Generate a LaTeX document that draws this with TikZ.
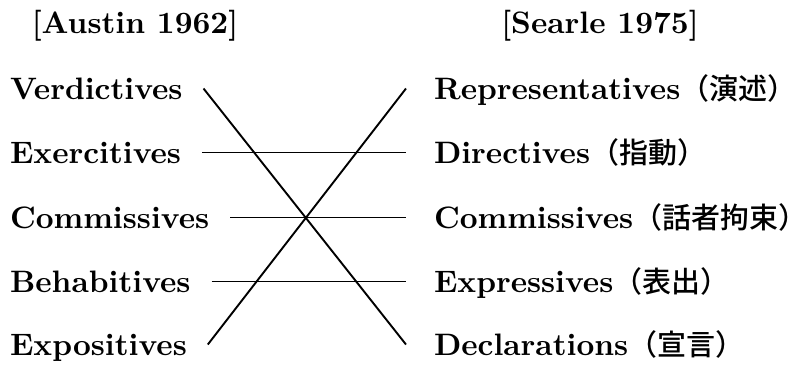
\documentclass[tikz,border=0pt]{standalone}
\usepackage{fontspec}
\setmainfont{lmroman10-regular}[Extension=.otf, BoldFont=lmroman10-bold]
\newfontfamily\cjk{Noto Sans CJK JP}[BoldFont={Noto Sans CJK JP Medium}]
\tikzset{
  every node/.style={font=\fontsize{31}{36}\selectfont\bfseries, inner sep=0pt,
                     text height=21pt, text depth=0pt},
  head/.style={anchor=base},
  austin/.style={anchor=text, outer xsep=21pt},
  searle/.style={anchor=text, outer xsep=28pt},
  link/.style={line width=1.9pt},
}
\newcommand{\gl}[1]{{\cjk\fontsize{29}{36}\selectfont #1}}

\begin{document}
\begin{tikzpicture}[x=1pt,y=-1pt]
\useasboundingbox (0,0) rectangle (812,365);
% column heads
\node[head] (austin) at (135,33) {[Austin 1962]};
\node[head] (searle) at (600,33) {[Searle 1975]};
% Austin's classes
\node[austin] (verd) at (10,99)  {Verdictives};
\node[austin] (exer) at (10,163) {Exercitives};
\node[austin] (comA) at (10,228) {Commissives};
\node[austin] (beha) at (10,292) {Behabitives};
\node[austin] (expo) at (10,355) {Expositives};
% Searle's classes
\node[searle] (repr) at (434,99)  {Representatives\gl{（演述）}};
\node[searle] (dire) at (434,163) {Directives\gl{（指動）}};
\node[searle] (comS) at (434,228) {Commissives\gl{（話者拘束）}};
\node[searle] (expr) at (434,292) {Expressives\gl{（表出）}};
\node[searle] (decl) at (434,355) {Declarations\gl{（宣言）}};
% correspondences
\draw[link] (verd.east) -- (decl.west);
\draw[link] (expo.east) -- (repr.west);
\draw[link] (exer.east) -- (dire.west);
\draw[link] (comA.east) -- (comS.west);
\draw[link] (beha.east) -- (expr.west);
\end{tikzpicture}
\end{document}
